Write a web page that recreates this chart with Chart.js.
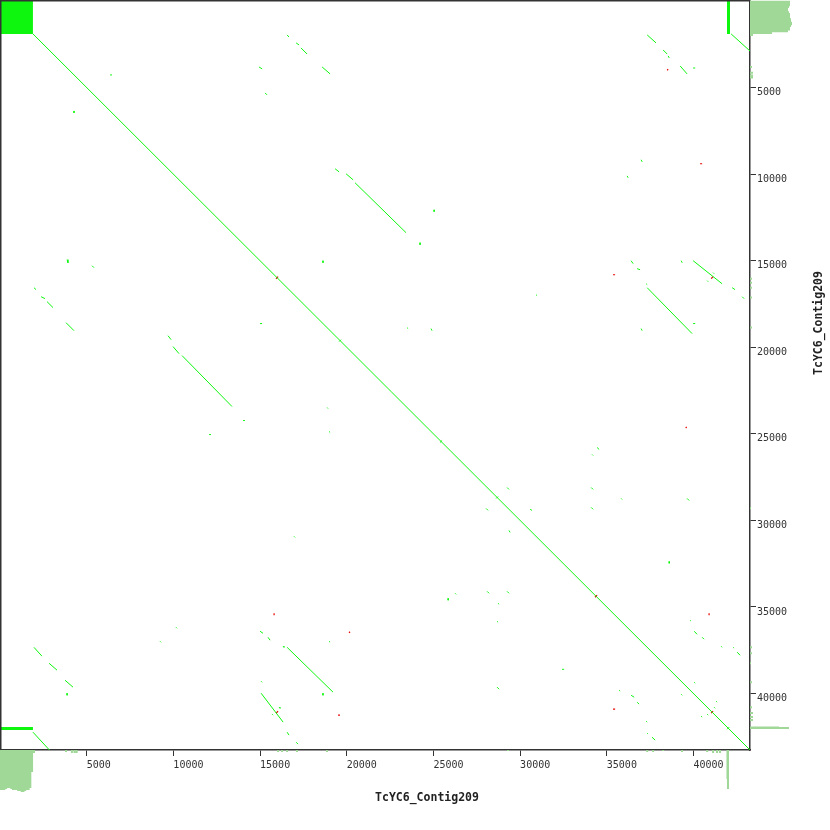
<!DOCTYPE html>
<html>
<head>
<meta charset="utf-8">
<script src="https://cdn.jsdelivr.net/npm/chart.js@4.4.1/dist/chart.umd.min.js"></script>
<style>
  html, body { margin: 0; padding: 0; background: #fff; }
  #wrap { width: 830px; height: 830px; }
</style>
</head>
<body>
<div id="wrap"><canvas id="dotplot" width="830" height="830"></canvas></div>
<script>
// self dot plot of one contig against itself
const contigName = 'TcYC6_Contig209';
const contigLength = 43260;
const tickValues = [5000, 10000, 15000, 20000, 25000, 30000, 35000, 40000];

// low complexity stretch at the start, and the copy of it near the end
const startRepeat = [0, 1900];
const endRepeatPos = 42020;
const mainDiagonal = [1900, 1900, 43260, 43260];
const endCopies = [
    [42170, 1900, 43260, 2890],
    [1900, 42230, 2850, 43260]
];

// forward hits [x1, y1, x2, y2]
const forwardHits = [
    [16560, 1960, 16670, 2080], [17080, 2420, 17250, 2540], [17360, 2710, 17710, 3060],
    [14940, 3810, 15120, 3920], [18580, 3810, 19040, 4210], [6350, 4270, 6460, 4270],
    [15290, 5310, 15400, 5420], [4270, 6350, 4270, 6460], [19330, 9690, 19560, 9870],
    [19960, 9980, 20370, 10330], [20480, 10500, 23420, 13380], [25040, 12060, 25040, 12170],
    [24230, 13960, 24230, 14080], [37330, 1960, 37840, 2420], [38250, 2830, 38480, 3060],
    [38540, 3170, 38600, 3290], [39230, 3750, 39630, 4210], [39980, 3870, 40100, 3870],
    [36980, 9170, 37040, 9290], [36170, 10100, 36230, 10210], [36400, 15000, 36520, 15170],
    [36750, 15460, 36920, 15520], [39290, 15000, 39350, 15120], [39980, 15000, 41650, 16330],
    [41130, 15690, 41190, 15750], [40790, 16150, 40850, 16210], [37270, 16330, 37330, 16380],
    [37330, 16560, 39920, 19210], [42230, 16560, 42400, 16670], [42810, 17080, 42920, 17190],
    [30920, 16960, 30980, 17020], [23480, 18870, 23540, 18920], [24860, 18920, 24920, 19040],
    [36980, 18920, 37040, 19040], [39980, 18630, 40100, 18630],
    [34440, 25790, 34560, 25900], [34150, 26190, 34210, 26250], [29250, 28100, 29360, 28210],
    [34100, 28100, 34210, 28210], [35830, 28730, 35880, 28790], [39630, 28730, 39750, 28850],
    [30580, 29360, 30690, 29420], [34100, 29250, 34210, 29360], [38600, 32370, 38600, 32480],
    [39810, 35770, 39860, 35820], [40040, 36400, 40210, 36580], [40500, 36750, 40610, 36860],
    [41600, 37270, 41650, 37330], [42290, 37330, 42340, 37380], [42520, 37610, 42690, 37790],
    [40040, 39350, 40100, 39400], [41310, 40440, 41360, 40500], [41190, 40790, 41250, 40850],
    // mirrored half
    [3870, 14940, 3920, 15120], [5310, 15290, 5420, 15400], [1960, 16560, 2080, 16670],
    [2370, 17080, 2600, 17190], [2710, 17360, 3060, 17710], [3810, 18580, 4270, 19040],
    [15000, 18630, 15120, 18630], [18630, 15000, 18630, 15120], [9690, 19330, 9870, 19560],
    [9980, 19960, 10330, 20370], [10500, 20480, 13380, 23420], [18870, 23480, 18920, 23540],
    [14020, 24230, 14130, 24230], [12060, 25040, 12170, 25040], [18980, 24860, 19040, 24920],
    [16960, 30920, 17020, 30980], [10150, 36170, 10210, 36230], [9230, 36980, 9290, 37040],
    [15000, 36400, 15170, 36520], [15460, 36750, 15580, 36920], [18980, 36980, 19040, 37040],
    [16330, 37270, 16380, 37330], [16560, 37330, 19210, 39920], [1960, 37330, 2420, 37840],
    [2830, 38250, 3290, 38650], [3750, 39230, 4210, 39630], [3870, 39980, 3870, 40100],
    [15060, 39290, 15120, 39350], [18630, 39980, 18630, 40100], [15060, 39980, 16330, 41650],
    [16100, 40790, 16150, 40850], [15690, 41190, 15750, 41250], [16560, 42230, 16670, 42400],
    [17080, 42810, 17190, 42920], [26250, 34210, 26310, 34270], [25850, 34500, 25850, 34610],
    [28100, 34100, 28210, 34210], [29250, 34100, 29360, 34210], [28730, 34790, 28790, 34840],
    [28670, 35830, 28730, 35880], [32420, 38600, 32540, 38600], [28670, 39630, 28790, 39750],
    [39290, 40040, 39350, 40100], [35710, 39810, 35770, 39860], [36400, 40100, 36580, 40210],
    [36750, 40500, 36860, 40610], [37270, 41600, 37330, 41650], [37330, 42290, 37380, 42340],
    [37610, 42520, 37790, 42690], [40440, 41310, 40500, 41360], [40790, 41190, 40850, 41250],
    [29360, 30580, 29420, 30690], [28040, 29310, 28150, 29420],
    // small crossings on the diagonal
    [25380, 25500, 25500, 25380], [19560, 19670, 19670, 19560], [28620, 28730, 28730, 28620],
    [41940, 42060, 42060, 41940]
];

// reverse complement hits
const reverseHits = [
    [38480, 4000, 38540, 3940], [40380, 9400, 40500, 9400], [35360, 15810, 35480, 15810],
    [41020, 16040, 41130, 15920], [15920, 16040, 16040, 15920], [15810, 35360, 15810, 35480],
    [20130, 36490, 20190, 36430], [15920, 41130, 16040, 41020], [19500, 41250, 19610, 41250],
    [39550, 24660, 39610, 24600], [34320, 34440, 34440, 34320], [40900, 35360, 40900, 35480],
    [35360, 40900, 35480, 40900], [41020, 41130, 41130, 41020]
];

// repeat depth profile drawn in the margins
const depthPos = [50, 150, 250, 350, 450, 550, 650, 750, 850, 950, 1050, 1150, 1250, 1350,
    1450, 1550, 1650, 1750, 1850, 1960, 3810, 4150, 4300, 4420, 16040, 16270, 16560, 17130,
    18860, 29300, 37330, 37670, 38250, 39340, 40790, 41130, 41360, 41530, 41960, 41990];
const depthVal = [40, 40, 40, 39, 38, 38, 39, 40, 40, 40, 41, 41, 42, 42, 41, 40, 40, 38, 22,
    3, 2, 3, 3, 3, 2, 2, 2, 2, 2, 1, 2, 2, 1, 2, 2, 3, 3, 3, 29, 39];
const depthUnit = 57.7; // bp of overhang per depth unit

const green = 'rgb(14, 246, 14)';
const red = 'rgb(232, 0, 0)';
const histGreen = 'rgb(160, 216, 152)';

function toPoints(segs) {
    const pts = [];
    segs.forEach(s => {
        pts.push({x: s[0], y: s[1]}, {x: s[2], y: s[3]}, {x: null, y: null});
    });
    return pts;
}

const rightHist = depthPos.map((p, i) => [contigLength, p, contigLength + depthVal[i] * depthUnit, p]);
const bottomHist = depthPos.map((p, i) => [p, contigLength, p, contigLength + depthVal[i] * depthUnit]);
const mid = (startRepeat[0] + startRepeat[1]) / 2;

function lineSet(segs, color, width, clip) {
    return {
        data: toPoints(segs),
        showLine: true,
        borderColor: color,
        borderWidth: width,
        pointRadius: 0,
        spanGaps: false,
        clip: clip,
        borderCapStyle: 'butt'
    };
}

const framePlugin = {
    id: 'frameAndTitles',
    afterDraw(chart) {
        const {ctx, chartArea} = chart;
        ctx.save();
        ctx.strokeStyle = '#333';
        ctx.lineWidth = 1.5;
        ctx.beginPath();
        ctx.moveTo(chartArea.right, 0.75);
        ctx.lineTo(0.75, 0.75);
        ctx.lineTo(0.75, chartArea.bottom);
        ctx.stroke();

        ctx.fillStyle = '#222';
        ctx.font = 'bold 11.5px "DejaVu Sans Mono"';
        ctx.textAlign = 'center';
        ctx.textBaseline = 'alphabetic';
        ctx.fillText(contigName, 427, 801);
        ctx.translate(822, 323);
        ctx.rotate(-Math.PI / 2);
        ctx.fillText(contigName, 0, 0);
        ctx.restore();
    }
};

function axisOpts(pos, pad) {
    return {
        type: 'linear',
        position: pos,
        min: 0,
        max: contigLength,
        reverse: pos === 'right',
        afterBuildTicks: axis => { axis.ticks = tickValues.map(v => ({value: v})); },
        afterFit: axis => {
            if (pos === 'right') axis.width = 80; else axis.height = 80;
        },
        grid: { drawOnChartArea: false, drawTicks: true, tickLength: 6, color: '#333', lineWidth: 1 },
        border: { display: true, color: '#333', width: 1.5 },
        ticks: {
            align: 'start',
            padding: pad,
            autoSkip: false,
            maxRotation: 0,
            color: '#333',
            font: { family: 'DejaVu Sans Mono', size: 10 },
            callback: v => String(v)
        }
    };
}

const dotCtx = document.getElementById('dotplot').getContext('2d');
const dotChart = new Chart(dotCtx, {
    type: 'scatter',
    data: {
        datasets: [
            lineSet(rightHist, histGreen, 2, false),
            lineSet(bottomHist, histGreen, 2, false),
            lineSet([[startRepeat[0], mid, startRepeat[1], mid]], green, 33, true),
            lineSet([[endRepeatPos, startRepeat[0], endRepeatPos, startRepeat[1]],
                     [startRepeat[0], endRepeatPos, startRepeat[1], endRepeatPos]], green, 3, true),
            lineSet([mainDiagonal].concat(endCopies), green, 1, true),
            lineSet(forwardHits, green, 1, true),
            lineSet(reverseHits, red, 1.2, true)
        ]
    },
    options: {
        responsive: false,
        animation: false,
        devicePixelRatio: 1,
        layout: { padding: 0 },
        plugins: { legend: { display: false }, tooltip: { enabled: false } },
        scales: {
            x: axisOpts('bottom', 3),
            y: axisOpts('right', 1)
        }
    },
    plugins: [framePlugin]
});
</script>
</body>
</html>
